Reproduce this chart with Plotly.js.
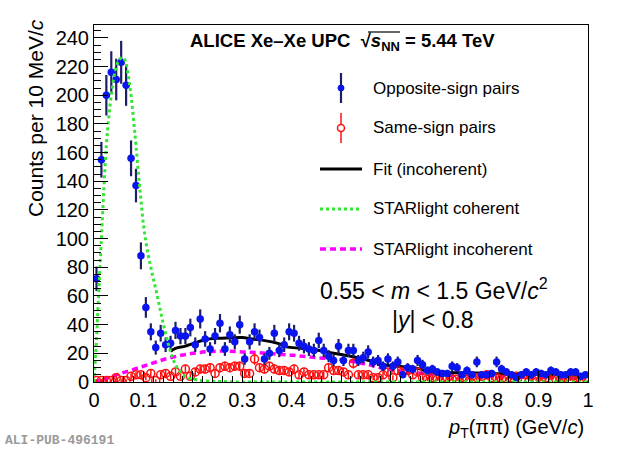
<!DOCTYPE html>
<html>
<head>
<meta charset="utf-8">
<script src="https://cdn.plot.ly/plotly-3.0.1.min.js"></script>
<style>
  html, body { margin: 0; padding: 0; background: #fff; }
  #plot { width: 620px; height: 452px; }
</style>
</head>
<body>
<div id="plot"></div>
<script>
// pT spectrum of pi+pi- pairs, 10 MeV/c bins from 0 to 1 GeV/c

// bin layout (first bin centre and bin width, GeV/c)
const binStart = 0.005;
const binWidth = 0.01;

// opposite-sign pairs, counts per bin
const oppositeSign = [
  72, 155, 200, 216, 211, 223, 207, 156, 137, 88,
  52, 35, 24, 34, 26, 27, 36, 32, 32, 38,
  26, 44, 30, 23, 32, 41, 23, 33, 28, 40,
  16, 28, 35, 31, 16, 20, 34, 22, 26, 35,
  34, 27, 25, 23, 22, 29, 22, 18, 15, 25,
  15, 22, 22, 15, 17, 21, 14, 15, 11, 16,
  11, 14, 5, 10, 9, 15, 12, 8, 9, 7,
  6, 6, 11, 10, 5, 8, 5, 14, 5, 5,
  6, 14, 9, 7, 5, 3, 5, 7, 5, 7,
  6, 5, 8, 7, 5, 5, 7, 7, 4, 5
];

// same-sign pairs, counts per bin
const sameSign = [
  1, 1, 1, 1, 3, 1, 1, 4, 5, 5,
  3, 6, 1, 5, 6, 4, 7, 4, 9, 4,
  7, 9, 9, 10, 6, 10, 11, 10, 11, 11,
  6, 6, 16, 10, 9, 11, 9, 8, 8, 7,
  9, 5, 7, 5, 5, 5, 5, 10, 8, 8,
  7, 5, 13, 5, 5, 5, 3, 3, 5, 7,
  3, 8, 7, 8, 5, 7, 3, 2, 3, 2,
  3, 3, 2, 2, 3, 2, 4, 3, 4, 5,
  3, 3, 2, 2, 3, 4, 2, 5, 4, 2,
  2, 3, 5, 2, 2, 3, 2, 3, 2, 3
];

// fit (incoherent)
const fitPt = [0.155, 0.165, 0.185, 0.2, 0.225, 0.25, 0.275, 0.3, 0.32, 0.34,
  0.36, 0.38, 0.39, 0.42, 0.45, 0.485, 0.52, 0.555, 0.59, 0.62,
  0.655, 0.675, 0.7, 0.75, 0.8, 0.85, 0.9, 0.95, 1.0];
const fitVal = [21.5, 23.5, 25, 26.8, 29.5, 30.5, 30.8, 31, 30, 29.2,
  28, 26, 24.5, 23.5, 22.3, 20, 18, 15.2, 11.8, 10.8,
  9.5, 7.5, 6.8, 6.4, 6, 5.6, 5.2, 4.8, 4.5];

// STARlight coherent
const cohPt = [0, 0.005, 0.01, 0.015, 0.02, 0.025, 0.03, 0.035, 0.04, 0.045,
  0.05, 0.055, 0.06, 0.065, 0.07, 0.075, 0.08, 0.085, 0.09, 0.095,
  0.1, 0.105, 0.11, 0.115, 0.12, 0.125, 0.13, 0.135, 0.14, 0.145,
  0.15, 0.155, 0.16, 0.165, 0.17, 0.175, 0.18, 0.185, 0.19, 0.195,
  0.2, 0.21, 0.22, 0.24, 0.26, 0.3, 0.4, 0.5, 0.6, 0.7, 0.8, 0.9, 1.0];
const cohVal = [0, 30, 65, 100, 135, 165, 185, 200, 212, 220,
  224, 226, 226, 222, 212, 200, 183, 165, 145, 127,
  110, 98, 88, 80, 72, 65, 57, 49, 41, 34,
  27, 21, 16, 12, 9, 7, 5, 4, 3, 2.5,
  2, 1.5, 1, 0.5, 0.3, 0, 0, 0, 0, 0, 0, 0, 0];

// STARlight incoherent
const incPt = [0, 0.02, 0.05, 0.1, 0.15, 0.2, 0.25, 0.3, 0.35, 0.4, 0.45,
  0.5, 0.55, 0.6, 0.65, 0.7, 0.75, 0.8, 0.85, 0.9, 0.95, 1.0];
const incVal = [0, 2, 5.5, 11, 16.5, 20, 21.5, 21, 20, 18.7, 17,
  15.5, 12.5, 8.5, 6.5, 5, 4.5, 4, 3.5, 3.2, 2.8, 2.5];

const legendLabels = ['Opposite-sign pairs', 'Same-sign pairs', 'Fit (incoherent)',
  'STARlight coherent', 'STARlight incoherent'];

// geometry of the frame in pixels
const W = 620, H = 452;
const mL = 94, mR = 32, mT = 25, mB = 70;
const plotW = W - mL - mR, plotH = H - mT - mB;
function px(x) { return (x - mL) / plotW; }
function py(y) { return (H - mB - y) / plotH; }

const FONT = 'Liberation Sans, Arial, Helvetica, sans-serif';
const BLUE = '#0a14ee';
const NAVY = '#1c1f66';
const RED = '#ff1010';
const GREEN = '#33e633';
const MAGENTA = '#ff00ff';

let traces = [
  {
    x: incPt, y: incVal, mode: 'lines', line: {color: MAGENTA, width: 3.5, dash: '6px,4px', shape: 'spline'},
    hoverinfo: 'skip', showlegend: false
  },
  {
    x: fitPt, y: fitVal, mode: 'lines', line: {color: 'black', width: 3, shape: 'spline'},
    hoverinfo: 'skip', showlegend: false
  },
  {
    y: sameSign, x0: binStart, dx: binWidth, mode: 'markers',
    marker: {symbol: 'circle-open', size: 8, color: RED, line: {width: 1.5, color: RED}},
    error_y: {type: 'sqrt', color: RED, thickness: 1.5, width: 0},
    showlegend: false
  },
  {
    y: oppositeSign, x0: binStart, dx: binWidth, mode: 'markers',
    marker: {symbol: 'circle', size: 7.5, color: BLUE},
    error_y: {type: 'sqrt', color: NAVY, thickness: 2.2, width: 0},
    showlegend: false
  },
  {
    x: cohPt, y: cohVal, mode: 'lines', line: {color: GREEN, width: 3, dash: 'dot', shape: 'spline'},
    hoverinfo: 'skip', showlegend: false
  }
];

// legend drawn by hand, ROOT style
let legendY = [88, 128, 169, 209, 249];
let shapes = [];
let annotations = [];

// opposite-sign sample: bar and filled marker
shapes.push({type: 'line', xref: 'paper', yref: 'paper', x0: px(341), x1: px(341), y0: py(legendY[0] - 15), y1: py(legendY[0] + 15),
  line: {color: NAVY, width: 2.2}});
shapes.push({type: 'circle', xref: 'paper', yref: 'paper', x0: px(338), x1: px(344), y0: py(legendY[0] + 3), y1: py(legendY[0] - 3),
  fillcolor: BLUE, line: {color: BLUE, width: 1}});
// same-sign sample: bar and open marker
shapes.push({type: 'line', xref: 'paper', yref: 'paper', x0: px(341), x1: px(341), y0: py(legendY[1] - 15), y1: py(legendY[1] + 15),
  line: {color: RED, width: 1.5}});
shapes.push({type: 'circle', xref: 'paper', yref: 'paper', x0: px(337.5), x1: px(344.5), y0: py(legendY[1] + 3.5), y1: py(legendY[1] - 3.5),
  fillcolor: 'white', line: {color: RED, width: 1.5}});
// line samples
shapes.push({type: 'line', xref: 'paper', yref: 'paper', x0: px(320), x1: px(362), y0: py(legendY[2]), y1: py(legendY[2]),
  line: {color: 'black', width: 3}});
shapes.push({type: 'line', xref: 'paper', yref: 'paper', x0: px(320), x1: px(362), y0: py(legendY[3]), y1: py(legendY[3]),
  line: {color: GREEN, width: 3, dash: 'dot'}});
shapes.push({type: 'line', xref: 'paper', yref: 'paper', x0: px(320), x1: px(362), y0: py(legendY[4]), y1: py(legendY[4]),
  line: {color: MAGENTA, width: 3.5, dash: '6px,4px'}});

for (let i = 0; i < legendLabels.length; i++) {
  annotations.push({
    text: legendLabels[i], xref: 'paper', yref: 'paper', x: px(371), y: py(legendY[i]),
    xanchor: 'left', yanchor: 'middle', showarrow: false,
    font: {family: FONT, size: 17, color: 'black'}
  });
}

// kinematic selection
annotations.push({
  text: '0.55 &lt; <i>m</i> &lt; 1.5 GeV/<i>c</i><sup>2</sup>', xref: 'paper', yref: 'paper', x: px(434), y: py(289),
  xanchor: 'center', yanchor: 'middle', showarrow: false, font: {family: FONT, size: 23, color: 'black'}
});
annotations.push({
  text: '|<i>y</i>| &lt; 0.8', xref: 'paper', yref: 'paper', x: px(433), y: py(320),
  xanchor: 'center', yanchor: 'middle', showarrow: false, font: {family: FONT, size: 23, color: 'black'}
});

// header
annotations.push({
  text: '<b>ALICE Xe\u2013Xe UPC  \u221A<i>s</i><sub>NN</sub> = 5.44 TeV</b>', xref: 'paper', yref: 'paper',
  x: px(188), y: py(42), xanchor: 'left', yanchor: 'middle', showarrow: false,
  font: {family: FONT, size: 18.5, color: 'black'}
});
// overbar of the square root
shapes.push({type: 'line', xref: 'paper', yref: 'paper', x0: px(368), x1: px(400), y0: py(32), y1: py(32),
  line: {color: 'black', width: 1.2}});

// axis titles
annotations.push({
  text: '<i>p</i><sub>T</sub>(\u03C0\u03C0) (GeV/<i>c</i>)', xref: 'paper', yref: 'paper', x: px(586), y: py(428),
  xanchor: 'right', yanchor: 'middle', showarrow: false, font: {family: FONT, size: 20, color: 'black'}
});
annotations.push({
  text: 'Counts per 10 MeV/<i>c</i>', xref: 'paper', yref: 'paper', x: px(35), y: py(17),
  xanchor: 'center', yanchor: 'top', textangle: -90, showarrow: false, font: {family: FONT, size: 21, color: 'black'}
});

// publication tag
annotations.push({
  text: '<b>ALI-PUB-496191</b>', xref: 'paper', yref: 'paper', x: px(3), y: py(440),
  xanchor: 'left', yanchor: 'middle', showarrow: false, font: {family: 'Liberation Mono, DejaVu Sans Mono, monospace', size: 13, color: '#9a9a9a'}
});

let layout = {
  width: W, height: H,
  margin: {l: mL, r: mR, t: mT, b: mB},
  paper_bgcolor: 'white', plot_bgcolor: 'white',
  showlegend: false,
  hovermode: false,
  xaxis: {
    range: [0, 1], tick0: 0, dtick: 0.1,
    ticks: 'inside', ticklen: 11, tickwidth: 1, tickcolor: 'black',
    minor: {dtick: 0.02, ticks: 'inside', ticklen: 6, tickcolor: 'black', showgrid: false},
    showgrid: false, zeroline: false, showline: true, mirror: true, linecolor: 'black', linewidth: 1,
    tickfont: {family: FONT, size: 20, color: 'black'}
  },
  yaxis: {
    range: [0, 249], tick0: 0, dtick: 20,
    ticks: 'inside', ticklen: 14, tickwidth: 1, tickcolor: 'black',
    minor: {dtick: 5, ticks: 'inside', ticklen: 7, tickcolor: 'black', showgrid: false},
    showgrid: false, zeroline: false, showline: true, mirror: true, linecolor: 'black', linewidth: 1,
    tickfont: {family: FONT, size: 20, color: 'black'}
  },
  shapes: shapes,
  annotations: annotations
};

Plotly.newPlot('plot', traces, layout, {displayModeBar: false, staticPlot: true});
</script>
</body>
</html>
